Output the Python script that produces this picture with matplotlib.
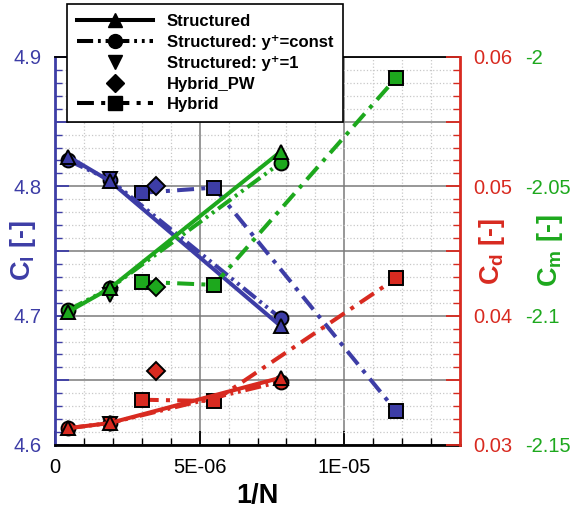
import numpy as np
import matplotlib
matplotlib.use("Agg")
import matplotlib.pyplot as plt
from matplotlib.lines import Line2D
from matplotlib.ticker import MultipleLocator, FixedLocator, FuncFormatter

plt.rcParams['font.family'] = ['Liberation Sans', 'DejaVu Sans']
plt.rcParams['mathtext.fontset'] = 'custom'
plt.rcParams['mathtext.rm'] = 'Liberation Sans'
plt.rcParams['mathtext.bf'] = 'Liberation Sans:bold'
plt.rcParams['axes.unicode_minus'] = False

# 1/N positions
x_struct = [4.6e-7, 1.9e-6, 7.8e-6]
x_y1 = [1.9e-6]
x_pw = [3.5e-6]
x_hyb = [3.0e-6, 5.5e-6, 1.18e-5]

# lift coefficient
cl_struct = [4.823, 4.804, 4.692]
cl_const = [4.820, 4.805, 4.698]
cl_y1 = [4.806]
cl_pw = [4.800]
cl_hyb = [4.795, 4.799, 4.626]

# drag coefficient
cd_struct = [0.0313, 0.0317, 0.0352]
cd_const = [0.0313, 0.0317, 0.0349]
cd_y1 = [0.0316]
cd_pw = [0.0357]
cd_hyb = [0.0335, 0.0334, 0.0429]

# moment coefficient
cm_struct = [-2.0985, -2.0894, -2.0366]
cm_const = [-2.0978, -2.0894, -2.0409]
cm_y1 = [-2.092]
cm_pw = [-2.089]
cm_hyb = [-2.0869, -2.0881, -2.008]

BLUE = '#3d3da6'
RED = '#d82a20'
GREEN = '#1da81d'

LW = 2.9
MS = 10
dash_dot_dot = (0, (4, 1.2, 0.7, 1.2, 0.7, 1.2))
dash_dot = (0, (4.2, 1.8, 1, 1.8))


def draw_series(axis, color, ys_struct, ys_const, ys_y1, ys_pw, ys_hyb):
    kw = dict(color=color, markerfacecolor=color, markeredgecolor='black',
              markeredgewidth=1.4, markersize=MS, lw=LW)
    axis.plot(x_hyb, ys_hyb, linestyle=dash_dot, marker='s', **kw)
    axis.plot(x_pw, ys_pw, linestyle='none', marker='D', **dict(kw, markersize=MS - 1))
    axis.plot(x_struct, ys_const, linestyle=dash_dot_dot, marker='o', **kw)
    axis.plot(x_y1, ys_y1, linestyle='none', marker='v', **kw)
    axis.plot(x_struct, ys_struct, linestyle='-', marker='^', **kw)


fig = plt.figure(figsize=(5.78, 5.08), dpi=100)
ax = fig.add_axes([55 / 578, 1 - 445 / 508, 405 / 578, 388 / 508])
ax2 = ax.twinx()
ax3 = ax.twinx()

# main axis (Cl)
ax.set_xlim(0, 1.4e-5)
ax.set_ylim(4.6, 4.9)
ax.xaxis.set_major_locator(MultipleLocator(5e-6))
ax.xaxis.set_minor_locator(MultipleLocator(1e-6))
ax.xaxis.set_major_formatter(FuncFormatter(lambda v, p: '0' if abs(v) < 1e-12 else f'{v:.0E}'))
ax.yaxis.set_major_locator(MultipleLocator(0.05))
ax.yaxis.set_minor_locator(MultipleLocator(0.01))
ax.yaxis.set_major_formatter(FuncFormatter(
    lambda v, p: f'{v:.1f}' if abs(v * 10 - round(v * 10)) < 1e-6 else ''))
ax.grid(which='major', color='#7a7a7a', lw=1.1, ls='-')
ax.grid(which='minor', color='#c8c8c8', lw=0.9, ls=':')
ax.set_axisbelow(True)
ax.tick_params(axis='x', which='both', direction='in', top=False, labelsize=14.5, pad=9.4, colors='black')
ax.tick_params(axis='x', which='major', length=10, width=1.3)
ax.tick_params(axis='x', which='minor', length=5, width=1.0)
ax.tick_params(axis='y', which='both', direction='in', right=False, labelsize=14.5, pad=9.4,
               colors=BLUE)
ax.tick_params(axis='y', which='major', length=10, width=1.3)
ax.tick_params(axis='y', which='minor', length=5, width=1.0)
ax.spines['left'].set_color(BLUE)
ax.spines['left'].set_linewidth(2)
ax.spines['bottom'].set_linewidth(2)
ax.spines['top'].set_linewidth(1.3)
ax.spines['right'].set_visible(False)
ax.set_xlabel('1/N', fontsize=19.5, fontweight='bold', labelpad=4)
ax.set_ylabel(r'$\mathbf{C_l}$ [-]', fontsize=19.5, fontweight='bold', color=BLUE)
ax.yaxis.set_label_coords(-0.042, 0.5)

# drag axis
ax2.set_ylim(0.03, 0.06)
ax2.yaxis.set_major_locator(MultipleLocator(0.005))
ax2.yaxis.set_minor_locator(MultipleLocator(0.001))
ax2.yaxis.set_major_formatter(FuncFormatter(
    lambda v, p: f'{v:.2f}' if abs(v * 100 - round(v * 100)) < 1e-6 else ''))
ax2.tick_params(axis='y', which='both', direction='in', labelsize=14.5, pad=9.4, colors=RED)
ax2.tick_params(axis='y', which='major', length=10, width=1.3)
ax2.tick_params(axis='y', which='minor', length=5, width=1.0)
for s in ('left', 'top', 'bottom'):
    ax2.spines[s].set_visible(False)
ax2.spines['right'].set_color(RED)
ax2.spines['right'].set_linewidth(2)
ax2.set_ylabel(r'$\mathbf{C_d}$ [-]', fontsize=19.5, fontweight='bold', color=RED)
ax2.yaxis.set_label_coords(1.042, 0.5)

# moment axis
ax3.set_ylim(-2.15, -2.0)
ax3.yaxis.set_major_locator(FixedLocator([-2.15, -2.1, -2.05, -2.0]))
ax3.yaxis.set_major_formatter(FuncFormatter(lambda v, p: f'{round(v, 3):g}'))
ax3.tick_params(axis='y', which='both', length=0, labelsize=14.5, pad=47, colors=GREEN)
for s in ax3.spines.values():
    s.set_visible(False)
ax3.set_ylabel(r'$\mathbf{C_m}$ [-]', fontsize=19.5, fontweight='bold', color=GREEN)
ax3.yaxis.set_label_coords(1.185, 0.5)

draw_series(ax, BLUE, cl_struct, cl_const, cl_y1, cl_pw, cl_hyb)
draw_series(ax2, RED, cd_struct, cd_const, cd_y1, cd_pw, cd_hyb)
draw_series(ax3, GREEN, cm_struct, cm_const, cm_y1, cm_pw, cm_hyb)
for a in (ax, ax2, ax3):
    a.set_xlim(0, 1.4e-5)

# legend with black proxy handles
hkw = dict(color='black', markerfacecolor='black', markeredgecolor='black', lw=LW, markersize=MS)
handles = [
    Line2D([], [], linestyle='-', marker='^', **hkw),
    Line2D([], [], linestyle=dash_dot_dot, marker='o', **hkw),
    Line2D([], [], linestyle='none', marker='v', **hkw),
    Line2D([], [], linestyle='none', marker='D', **dict(hkw, markersize=MS - 1)),
    Line2D([], [], linestyle=dash_dot, marker='s', **hkw),
]
labels = ['Structured', 'Structured: y\u207a=const', 'Structured: y\u207a=1',
          'Hybrid_PW', 'Hybrid']
leg = fig.legend(handles, labels, loc='upper left', bbox_to_anchor=(66.7 / 578, 1 - 4 / 508),
                 prop={'weight': 'bold', 'size': 12}, frameon=True, fancybox=False,
                 framealpha=1, edgecolor='black', handlelength=4.6, handletextpad=0.8,
                 labelspacing=0.35, borderpad=0.6, borderaxespad=0)
leg.get_frame().set_linewidth(1.2)

fig.savefig('out.png', dpi=100)
